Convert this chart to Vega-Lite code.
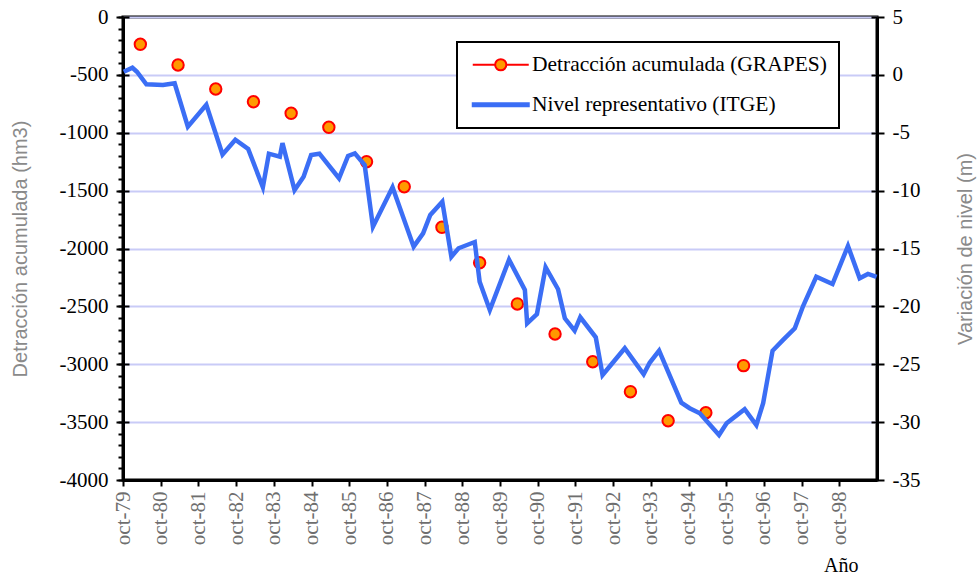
{
  "$schema": "https://vega.github.io/schema/vega-lite/v6.json",
  "width": 754,
  "height": 463,
  "autosize": {"type": "none"},
  "padding": {"left": 123, "top": 17, "right": 100, "bottom": 101},
  "background": "white",
  "config": {
    "view": {"stroke": "black", "strokeWidth": 3},
    "legend": {"strokeWidth": 2},
    "axis": {"labelFont": "Liberation Serif"}
  },
  "datasets": {
    "grapes": [
      {"t": 1979.46, "v": -236, "serie": "Detracción acumulada (GRAPES)"},
      {"t": 1980.46, "v": -415, "serie": "Detracción acumulada (GRAPES)"},
      {"t": 1981.46, "v": -622, "serie": "Detracción acumulada (GRAPES)"},
      {"t": 1982.46, "v": -732, "serie": "Detracción acumulada (GRAPES)"},
      {"t": 1983.46, "v": -832, "serie": "Detracción acumulada (GRAPES)"},
      {"t": 1984.46, "v": -953, "serie": "Detracción acumulada (GRAPES)"},
      {"t": 1985.46, "v": -1250, "serie": "Detracción acumulada (GRAPES)"},
      {"t": 1986.46, "v": -1466, "serie": "Detracción acumulada (GRAPES)"},
      {"t": 1987.46, "v": -1817, "serie": "Detracción acumulada (GRAPES)"},
      {"t": 1988.46, "v": -2123, "serie": "Detracción acumulada (GRAPES)"},
      {"t": 1989.46, "v": -2479, "serie": "Detracción acumulada (GRAPES)"},
      {"t": 1990.46, "v": -2739, "serie": "Detracción acumulada (GRAPES)"},
      {"t": 1991.46, "v": -2978, "serie": "Detracción acumulada (GRAPES)"},
      {"t": 1992.46, "v": -3237, "serie": "Detracción acumulada (GRAPES)"},
      {"t": 1993.46, "v": -3488, "serie": "Detracción acumulada (GRAPES)"},
      {"t": 1994.46, "v": -3419, "serie": "Detracción acumulada (GRAPES)"},
      {"t": 1995.46, "v": -3012, "serie": "Detracción acumulada (GRAPES)"}
    ],
    "itge": [
      {"t": 1979.02, "r": 0.27}, {"t": 1979.25, "r": 0.62}, {"t": 1979.37, "r": 0.27},
      {"t": 1979.62, "r": -0.81}, {"t": 1980.06, "r": -0.87}, {"t": 1980.37, "r": -0.73},
      {"t": 1980.72, "r": -4.48}, {"t": 1981.21, "r": -2.58}, {"t": 1981.64, "r": -6.88},
      {"t": 1981.98, "r": -5.6}, {"t": 1982.32, "r": -6.39}, {"t": 1982.71, "r": -9.71},
      {"t": 1982.87, "r": -6.81}, {"t": 1983.16, "r": -7.07}, {"t": 1983.23, "r": -5.89},
      {"t": 1983.55, "r": -9.95}, {"t": 1983.79, "r": -8.8}, {"t": 1983.99, "r": -6.92},
      {"t": 1984.21, "r": -6.81}, {"t": 1984.73, "r": -8.93}, {"t": 1984.97, "r": -7.01},
      {"t": 1985.15, "r": -6.78}, {"t": 1985.41, "r": -7.79}, {"t": 1985.63, "r": -13.12},
      {"t": 1986.15, "r": -9.71}, {"t": 1986.71, "r": -14.84}, {"t": 1986.96, "r": -13.69},
      {"t": 1987.15, "r": -12.11}, {"t": 1987.47, "r": -10.96}, {"t": 1987.71, "r": -15.71},
      {"t": 1987.9, "r": -14.98}, {"t": 1988.33, "r": -14.44}, {"t": 1988.46, "r": -17.87},
      {"t": 1988.73, "r": -20.31}, {"t": 1989.24, "r": -15.97}, {"t": 1989.66, "r": -18.58},
      {"t": 1989.72, "r": -21.46}, {"t": 1989.98, "r": -20.66}, {"t": 1990.21, "r": -16.62},
      {"t": 1990.54, "r": -18.52}, {"t": 1990.72, "r": -21.03}, {"t": 1990.98, "r": -22.1},
      {"t": 1991.13, "r": -20.94}, {"t": 1991.54, "r": -22.67}, {"t": 1991.72, "r": -25.93},
      {"t": 1992.31, "r": -23.62}, {"t": 1992.81, "r": -25.87}, {"t": 1992.97, "r": -24.87},
      {"t": 1993.22, "r": -23.83}, {"t": 1993.81, "r": -28.32}, {"t": 1994.03, "r": -28.8},
      {"t": 1994.3, "r": -29.24}, {"t": 1994.81, "r": -31.11}, {"t": 1995.01, "r": -30.1},
      {"t": 1995.49, "r": -28.89}, {"t": 1995.8, "r": -30.25}, {"t": 1995.98, "r": -28.37},
      {"t": 1996.23, "r": -23.83}, {"t": 1996.51, "r": -22.9}, {"t": 1996.82, "r": -21.89},
      {"t": 1997.04, "r": -19.97}, {"t": 1997.39, "r": -17.44}, {"t": 1997.82, "r": -18.07},
      {"t": 1998.23, "r": -14.78}, {"t": 1998.54, "r": -17.57}, {"t": 1998.76, "r": -17.2},
      {"t": 1998.99, "r": -17.46}
    ]
  },
  "encoding": {
    "x": {
      "field": "t",
      "type": "quantitative",
      "scale": {"domain": [1979, 1999], "nice": false, "zero": false},
      "axis": {
        "title": "Año",
        "values": [1979, 1980, 1981, 1982, 1983, 1984, 1985, 1986, 1987, 1988, 1989, 1990, 1991, 1992, 1993, 1994, 1995, 1996, 1997, 1998],
        "labelExpr": "'oct-' + substring(toString(datum.value), 2, 4)",
        "labelAngle": 270,
        "labelFont": "Liberation Serif",
        "labelFontSize": 21,
        "labelColor": "#6e6e6e",
        "labelPadding": 5,
        "labelFlush": false,
        "labelOverlap": false,
        "tickSize": 6,
        "tickWidth": 2,
        "tickColor": "black",
        "domainColor": "black",
        "domainWidth": 3,
        "grid": false,
        "titleFont": "Liberation Serif",
        "titleFontSize": 20,
        "titleFontWeight": "normal",
        "titleColor": "black",
        "titleAlign": "right",
        "titleBaseline": "alphabetic",
        "titleX": 735,
        "titleY": 91
      }
    }
  },
  "layer": [
    {
      "data": {"name": "grapes"},
      "mark": {"type": "point", "opacity": 0},
      "encoding": {
        "y": {
          "field": "v", "type": "quantitative",
          "scale": {"domain": [-4000, 0], "nice": false, "zero": false},
          "axis": {
            "orient": "left",
            "values": [-4000, -3900, -3800, -3700, -3600, -3500, -3400, -3300, -3200, -3100, -3000, -2900, -2800, -2700, -2600, -2500, -2400, -2300, -2200, -2100, -2000, -1900, -1800, -1700, -1600, -1500, -1400, -1300, -1200, -1100, -1000, -900, -800, -700, -600, -500, -400, -300, -200, -100, 0],
            "labels": false, "domain": false, "grid": false, "title": null,
            "tickSize": 5, "tickWidth": 2, "tickColor": "black"
          }
        }
      }
    },
    {
      "data": {"name": "grapes"},
      "mark": {"type": "point", "opacity": 0},
      "encoding": {
        "y": {
          "field": "v", "type": "quantitative",
          "scale": {"domain": [-4000, 0], "nice": false, "zero": false},
          "axis": {
            "orient": "left",
            "values": [-4000, -3500, -3000, -2500, -2000, -1500, -1000, -500, 0],
            "labels": false, "domain": false, "grid": false, "title": null,
            "tickSize": -6, "tickWidth": 2, "tickColor": "black"
          }
        }
      }
    },
    {
      "data": {"name": "itge"},
      "mark": {"type": "point", "opacity": 0},
      "encoding": {
        "y": {
          "field": "r", "type": "quantitative",
          "scale": {"domain": [-35, 5], "nice": false, "zero": false},
          "axis": {
            "orient": "right",
            "values": [-35, -30, -25, -20, -15, -10, -5, 0, 5],
            "labels": false, "domain": false, "grid": false, "title": null,
            "tickSize": -6, "tickWidth": 2, "tickColor": "black"
          }
        }
      }
    },
    {
      "data": {"name": "grapes"},
      "mark": {"type": "point", "opacity": 0},
      "encoding": {
        "y": {
          "field": "v", "type": "quantitative",
          "scale": {"domain": [-4000, 0], "nice": false, "zero": false},
          "axis": null
        },
        "shape": {
          "field": "serie", "type": "nominal",
          "scale": {
            "domain": ["Detracción acumulada (GRAPES)", "Nivel representativo (ITGE)"],
            "range": ["M-4,0H-0.8M0.8,0H4M-0.8,0A0.8,0.8,0,1,1,0.8,0A0.8,0.8,0,1,1,-0.8,0Z", "M-4,-0.2H4V0.2H-4Z"]
          },
          "legend": {
            "title": null,
            "orient": "none",
            "legendX": 334,
            "legendY": 25,
            "direction": "vertical",
            "strokeColor": "black",
            "fillColor": "white",
            "padding": 12,
            "symbolSize": 196,
            "symbolStrokeWidth": 2,
            "symbolOpacity": 1,
            "symbolOffset": 21,
            "labelFont": "Liberation Serif",
            "labelFontSize": 21.5,
            "labelColor": "black",
            "labelOffset": 20.5,
            "labelLimit": 500,
            "rowPadding": 17
          }
        },
        "stroke": {
          "field": "serie", "type": "nominal",
          "scale": {
            "domain": ["Detracción acumulada (GRAPES)", "Nivel representativo (ITGE)"],
            "range": ["#FF0000", "#3B6EF5"]
          },
          "legend": {
            "title": null,
            "orient": "none",
            "legendX": 334,
            "legendY": 25,
            "direction": "vertical",
            "strokeColor": "black",
            "fillColor": "white",
            "padding": 12,
            "symbolSize": 196,
            "symbolStrokeWidth": 2,
            "symbolOpacity": 1,
            "symbolOffset": 21,
            "labelFont": "Liberation Serif",
            "labelFontSize": 21.5,
            "labelColor": "black",
            "labelOffset": 20.5,
            "labelLimit": 500,
            "rowPadding": 17
          }
        },
        "fill": {
          "field": "serie", "type": "nominal",
          "scale": {
            "domain": ["Detracción acumulada (GRAPES)", "Nivel representativo (ITGE)"],
            "range": ["#FF9900", "#3B6EF5"]
          },
          "legend": {
            "title": null,
            "orient": "none",
            "legendX": 334,
            "legendY": 25,
            "direction": "vertical",
            "strokeColor": "black",
            "fillColor": "white",
            "padding": 12,
            "symbolSize": 196,
            "symbolStrokeWidth": 2,
            "symbolOpacity": 1,
            "symbolOffset": 21,
            "labelFont": "Liberation Serif",
            "labelFontSize": 21.5,
            "labelColor": "black",
            "labelOffset": 20.5,
            "labelLimit": 500,
            "rowPadding": 17
          }
        }
      }
    },
    {
      "data": {"name": "grapes"},
      "mark": {"type": "point", "filled": true, "fill": "#FF9900", "stroke": "#FF0000", "strokeWidth": 2, "size": 130, "opacity": 1},
      "encoding": {
        "y": {
          "field": "v", "type": "quantitative",
          "scale": {"domain": [-4000, 0], "nice": false, "zero": false},
          "axis": {
            "orient": "left",
            "values": [-4000, -3500, -3000, -2500, -2000, -1500, -1000, -500, 0],
            "labelExpr": "toString(datum.value)",
            "labelFont": "Liberation Serif",
            "labelFontSize": 21,
            "labelColor": "black",
            "labelPadding": 8,
            "labelFlush": false,
            "labelOverlap": false,
            "tickSize": 7,
            "tickWidth": 2,
            "tickColor": "black",
            "domainColor": "black",
            "domainWidth": 3,
            "grid": true,
            "gridColor": "#C9CBF7",
            "gridWidth": 2,
            "title": "Detracción acumulada (hm3)",
            "titleFont": "Liberation Sans",
            "titleFontSize": 20,
            "titleFontWeight": "normal",
            "titleColor": "#8a8a8a",
            "titleAngle": 270,
            "titleAlign": "center",
            "titleBaseline": "middle",
            "titleX": -103,
            "titleY": 231.5
          }
        }
      }
    },
    {
      "data": {"name": "itge"},
      "mark": {"type": "line", "color": "#3B6EF5", "strokeWidth": 4.5},
      "encoding": {
        "y": {
          "field": "r", "type": "quantitative",
          "scale": {"domain": [-35, 5], "nice": false, "zero": false},
          "axis": {
            "orient": "right",
            "values": [-35, -30, -25, -20, -15, -10, -5, 0, 5],
            "labelExpr": "toString(datum.value)",
            "labelFont": "Liberation Serif",
            "labelFontSize": 21,
            "labelColor": "black",
            "labelPadding": 8,
            "labelFlush": false,
            "labelOverlap": false,
            "tickSize": 7,
            "tickWidth": 2,
            "tickColor": "black",
            "domainColor": "black",
            "domainWidth": 3,
            "grid": false,
            "title": "Variación de nivel (m)",
            "titleFont": "Liberation Sans",
            "titleFontSize": 20,
            "titleFontWeight": "normal",
            "titleColor": "#8a8a8a",
            "titleAngle": 270,
            "titleAlign": "center",
            "titleBaseline": "middle",
            "titleX": 88,
            "titleY": 231.5
          }
        }
      }
    }
  ],
  "resolve": {"scale": {"y": "independent"}, "axis": {"y": "independent"}}
}
